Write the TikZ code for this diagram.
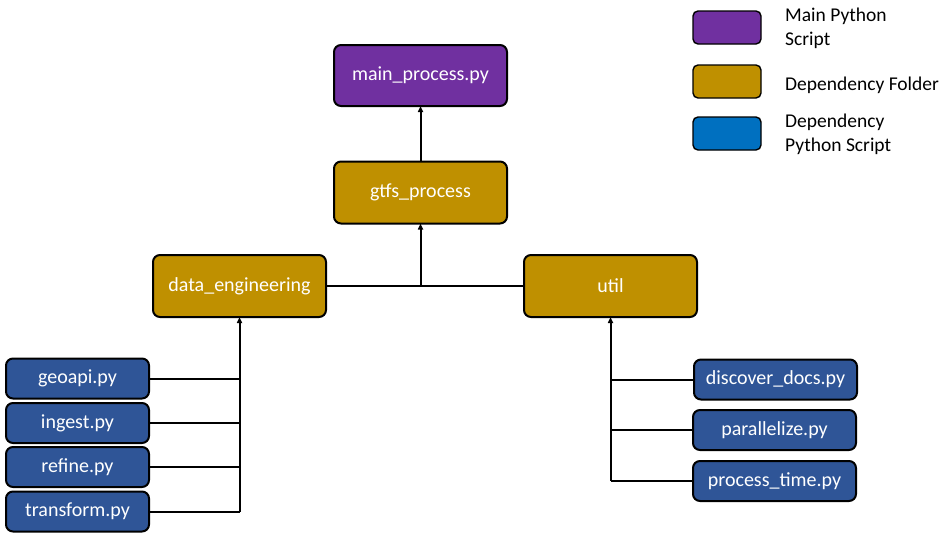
\documentclass[tikz,border=0pt]{standalone}
\usepackage{fontspec}
\setmainfont{Carlito}
\usetikzlibrary{arrows.meta}
\definecolor{mainpurple}{HTML}{7030A0}
\definecolor{foldergold}{HTML}{BF9000}
\definecolor{fileblue}{HTML}{2F5597}
\definecolor{legblue}{HTML}{0070C0}
\tikzset{
  box/.style={draw=black, line width=2pt, rounded corners=7pt, text=white,
    font=\fontsize{20}{24}\selectfont, inner sep=0pt, outer sep=0pt},
  mainbox/.style={box, fill=mainpurple, minimum width=173pt, minimum height=61pt},
  folderbox/.style={box, fill=foldergold, minimum width=173pt, minimum height=62pt},
  filebox/.style={box, fill=fileblue, minimum width=143pt, minimum height=40pt},
  rfilebox/.style={box, fill=fileblue, minimum width=163pt, minimum height=40pt},
  legbox/.style={draw=black, line width=1.4pt, rounded corners=5pt, minimum width=68pt, minimum height=33pt, inner sep=0pt, outer sep=0pt},
  legtext/.style={anchor=west, align=left, font=\fontsize{19.5}{24}\selectfont, inner sep=0pt},
  conn/.style={draw=black, line width=2pt},
  arr/.style={conn, -{Triangle[length=6pt,width=5pt]}},
}
\begin{document}
\begin{tikzpicture}[x=1pt,y=-1pt]
\useasboundingbox (0,0) rectangle (943,541);
% main nodes
\node[mainbox] (main) at (420.5,75.5) {main\_process.py};
\node[folderbox] (gtfs) at (420.5,192.5) {gtfs\_process};
\node[folderbox] (de) at (239.5,286) {data\_engineering};
\node[folderbox] (util) at (610.5,286) {util};
% left files
\node[filebox] (geo) at (77.5,378.5) {geoapi.py};
\node[filebox] (ing) at (77.5,423) {ingest.py};
\node[filebox] (ref) at (77.5,467) {refine.py};
\node[filebox] (tra) at (77.5,511.5) {transform.py};
% right files
\node[rfilebox] (disc) at (775.5,379.5) {discover\_docs.py};
\node[rfilebox] (par) at (774.5,430) {parallelize.py};
\node[rfilebox] (pt) at (774.5,481) {process\_time.py};
% connectors top
\coordinate (j) at (420.5,286);
\draw[arr] (gtfs.north) -- (main.south);
\draw[conn] (de.east) -- (util.west);
\draw[arr] (j) -- (gtfs.south);
% left connectors
\coordinate (lb) at (239.5,511.5);
\draw[arr] (lb) -- (de.south);
\draw[conn] (geo.east) -- (geo.east -| lb);
\draw[conn] (ing.east) -- (ing.east -| lb);
\draw[conn] (ref.east) -- (ref.east -| lb);
\draw[conn] (tra.east) -- (lb);
% right connectors
\coordinate (rb) at (610.5,481);
\draw[arr] (rb) -- (util.south);
\draw[conn] (disc.west) -- (disc.west -| rb);
\draw[conn] (par.west) -- (par.west -| rb);
\draw[conn] (pt.west) -- (rb);
% legend
\node[legbox, fill=mainpurple] (lg1) at (727,27.5) {};
\node[legbox, fill=foldergold] (lg2) at (727,81.5) {};
\node[legbox, fill=legblue] (lg3) at (727,133.5) {};
\node[legtext] (lt1) at (785,28) {Main Python\\Script};
\node[legtext] (lt2) at (785,85) {Dependency Folder};
\node[legtext] (lt3) at (785,134) {Dependency\\Python Script};
\end{tikzpicture}
\end{document}
